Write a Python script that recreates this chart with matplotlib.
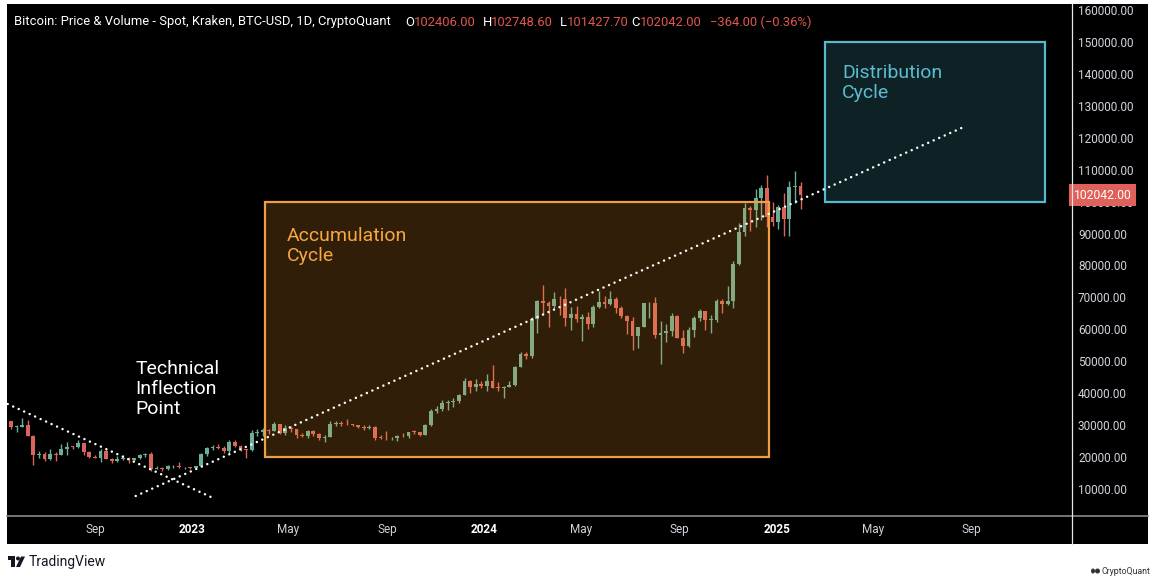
import matplotlib
matplotlib.use('Agg')
import matplotlib.pyplot as plt
import matplotlib.dates as mdates
import matplotlib.transforms as mtransforms
import numpy as np
import pandas as pd
from matplotlib.patches import Rectangle, Ellipse, Polygon

# ---------------- data (weekly candles, Kraken BTC-USD) ----------------
first_week = '2022-05-16'
first_open = 31300
closes = [29450, 29450, 29900, 26600, 20550, 21050, 19300, 20850, 20800, 22600,
          23300, 23200, 24300, 21500, 20000, 19800, 21800, 19400, 18800, 19400,
          19400, 19200, 19600, 20600, 21100, 16300, 16700, 16400, 17100, 17100,
          16800, 16850, 16550,
          # 2023
          17100, 20900, 22700, 23100, 22900, 21800, 24600, 23550, 22400, 22100,
          27600, 27900, 28450, 28300, 30300, 27600, 29200, 28700, 26900, 26750,
          28050, 27250, 25900, 26350, 30500, 30600, 30300, 30250, 30100, 29300,
          29050, 29300, 26100, 26000, 25850, 25850, 26550, 26500, 27950, 27900,
          26850, 29900, 34500, 35000, 37050, 37350, 37450, 39450, 43750, 41900,
          43000, 42300,
          # 2024
          43900, 41750, 41600, 42000, 42550, 48300, 52150, 51550, 63100, 68900,
          68400, 67200, 69650, 69400, 63400, 64900, 63100, 63800, 61600, 66900,
          68550, 67800, 69500, 66600, 64300, 62700, 58000, 60800, 68200, 68300,
          58200, 58700, 59400, 64200, 57300, 54800, 59900, 63600, 65600, 62900,
          62900, 69000, 68000, 68800, 80400, 90500, 98000, 97500, 101200, 104300,
          95200, 93700, 98400,
          # 2025
          94500, 104500, 105000, 102042]
highs = [31400, 30200, 32200, 31600, 26800, 21900, 21500, 22400, 21600, 24200,
         24600, 23600, 25200, 24400, 21800, 20600, 22400, 22800, 19700, 20400,
         20500, 19900, 19700, 21000, 21400, 21500, 17200, 16800, 17400, 17400,
         18400, 17000, 16950,
         17200, 21300, 23300, 23900, 24200, 23400, 25200, 25200, 23900, 22600,
         28400, 28900, 29200, 28800, 30900, 30500, 30000, 29800, 28900, 27600,
         28400, 28400, 27400, 26800, 31400, 31300, 31400, 31800, 30400, 30100,
         30000, 30200, 29700, 26800, 28100, 26400, 26800, 27400, 28000, 28600,
         27900, 30300, 35200, 35900, 37900, 37900, 38400, 39800, 44700, 44000,
         44400, 43800,
         45900, 48900, 43500, 42200, 43900, 48500, 52800, 52900, 64000, 69200,
         73800, 68900, 71600, 70300, 72800, 66900, 67200, 64700, 65500, 67700,
         72000, 70600, 71900, 70200, 67200, 64500, 63800, 59700, 68300, 68500,
         70000, 62700, 61800, 65000, 64500, 59800, 60600, 64100, 66500, 65600,
         64500, 69400, 69500, 73600, 81500, 93400, 99500, 98700, 103900, 105200,
         108300, 99900, 98900,
         102700, 106400, 109500, 106300]
lows = [28700, 28000, 29300, 26600, 17600, 19600, 18700, 19000, 18900, 20700,
        20700, 22400, 22800, 20800, 19800, 19600, 18500, 19300, 18200, 18500,
        19200, 18200, 18900, 19300, 20000, 15600, 16200, 15500, 16000, 16700,
        16500, 16300, 16400,
        16500, 17100, 20400, 22300, 22500, 21400, 21400, 23100, 21900, 19600,
        21900, 26600, 26600, 27200, 28200, 27100, 27000, 27700, 26100, 26300,
        25900, 26600, 25400, 24800, 26250, 29600, 29800, 29950, 29600, 29100,
        28600, 28700, 25200, 25800, 25400, 25300, 24900, 26200, 26000, 27200,
        26600, 26800, 29700, 33900, 34500, 34800, 35700, 36800, 39400, 40200,
        40600, 41600,
        40800, 41500, 40600, 38500, 41800, 42300, 48200, 50600, 50900, 59000,
        64600, 60800, 66600, 64500, 61000, 59700, 62400, 56500, 60200, 60800,
        66600, 66600, 67500, 65100, 63500, 58500, 53600, 54300, 60700, 63500,
        57200, 49100, 56100, 57800, 57200, 52600, 54600, 57600, 62700, 59800,
        58900, 62400, 65000, 67500, 66800, 80200, 89300, 90800, 92000, 94200,
        92200, 92500, 91400,
        89300, 89300, 99500, 97800]

last_open, last_high, last_low, last_close = 102406.00, 102748.60, 101427.70, 102042.00
last_change, last_change_pct = -364.00, -0.36

price_ticks = [10000, 20000, 30000, 40000, 50000, 60000, 70000, 80000,
               90000, 100000, 110000, 120000, 130000, 140000, 150000, 160000]
time_ticks = ['2022-09-01', '2023-01-01', '2023-05-01', '2023-09-01', '2024-01-01',
              '2024-05-01', '2024-09-01', '2025-01-01', '2025-05-01', '2025-09-01']
time_labels = ['Sep', '2023', 'May', 'Sep', '2024', 'May', 'Sep', '2025', 'May', 'Sep']

# drawings
accum_box = ('2023-04-01', '2024-12-22', 20000, 100000)
distr_box = ('2025-03-01', '2025-12-02', 100000, 150000)
trend_up = (('2022-10-22', 7810), ('2025-08-22', 123370))
trend_down = (('2022-05-15', 36620), ('2023-01-24', 7500))

# ---------------- figure ----------------
W, H = 1166, 580
fig = plt.figure(figsize=(W / 100, H / 100), dpi=100, facecolor='white')
UI = 'Roboto'


def fx(px):
    return px / W


def fy(py):
    return 1 - py / H


fig.patches.append(Rectangle((fx(7), fy(544)), fx(1148) - fx(7), fy(4) - fy(544),
                             transform=fig.transFigure, facecolor='black',
                             edgecolor='none', zorder=-5))

ax = fig.add_axes([fx(7), fy(515), fx(1071) - fx(7), fy(4) - fy(515)])
ax.set_zorder(1)
ax.set_facecolor('black')
for s in ax.spines.values():
    s.set_visible(False)

base = mdates.date2num(pd.Timestamp('2023-01-01'))
ax.set_xlim(base - 231.9, base + 1098.1)
ax.set_ylim(1857, 161894)

# candles
dates = pd.date_range(first_week, periods=len(closes), freq='W-MON')
xs = mdates.date2num(dates) + 3
opens = [first_open] + closes[:-1]
up_c, dn_c = '#6aae98', '#d8665a'
cols = [up_c if c >= o else dn_c for o, c in zip(opens, closes)]
ax.vlines(xs, lows, highs, colors=cols, linewidth=1.0, zorder=3)
bottoms = [min(o, c) for o, c in zip(opens, closes)]
heights = [max(abs(c - o), 200) for o, c in zip(opens, closes)]
ax.bar(xs, heights, bottom=bottoms, width=4.6, color=cols, linewidth=0, zorder=3)


def dn(s):
    return mdates.date2num(pd.Timestamp(s))


# boxes (drawn over the series like TradingView drawings)
x0, x1, y0, y1 = accum_box
ax.add_patch(Rectangle((dn(x0), y0), dn(x1) - dn(x0), y1 - y0, facecolor='#f29a2e',
                       alpha=0.2, edgecolor='none', zorder=4))
ax.add_patch(Rectangle((dn(x0), y0), dn(x1) - dn(x0), y1 - y0, facecolor='none',
                       edgecolor='#f0a040', linewidth=1.6, zorder=5))
x0, x1, y0, y1 = distr_box
ax.add_patch(Rectangle((dn(x0), y0), dn(x1) - dn(x0), y1 - y0, facecolor='#4fb8cf',
                       alpha=0.18, edgecolor='none', zorder=4))
ax.add_patch(Rectangle((dn(x0), y0), dn(x1) - dn(x0), y1 - y0, facecolor='none',
                       edgecolor='#5ab8cc', linewidth=1.6, zorder=5))

# dotted trend lines
for (a, pa), (b, pb) in (trend_up, trend_down):
    ax.plot([dn(a), dn(b)], [pa, pb], color='white', linewidth=1.8,
            linestyle=(0, (0.01, 2.4)), dash_capstyle='round', zorder=6)

# annotation texts
ax.text(dn('2022-10-22'), 41320, 'Technical\nInflection\nPoint', color='white',
        fontsize=14, family=UI, va='center', ha='left', linespacing=1.12, zorder=7)
ax.text(dn('2023-04-29'), 86100, 'Accumulation\nCycle', color='#f5a742',
        fontsize=14, family=UI, va='center', ha='left', linespacing=1.12, zorder=7)
ax.text(dn('2025-03-23'), 137150, 'Distribution\nCycle', color='#5bbcd0',
        fontsize=14, family=UI, va='center', ha='left', linespacing=1.12, zorder=7)

# price axis on the right
ax.yaxis.tick_right()
ax.set_yticks(price_ticks)
ax.set_yticklabels([f'{v:.2f}' for v in price_ticks])
ax.tick_params(axis='y', length=0, pad=5, labelcolor='#d1d4dc', labelsize=8.5)
for lab in ax.get_yticklabels():
    lab.set_family(UI)

# time axis
ax.set_xticks([dn(t) for t in time_ticks])
ax.set_xticklabels(time_labels)
ax.tick_params(axis='x', length=0, pad=10.5, labelcolor='#d1d4dc', labelsize=8.5)
for lab in ax.get_xticklabels():
    lab.set_family(UI)
    lab.set_va('center')
    if lab.get_text().isdigit():
        lab.set_fontweight('bold')
        lab.set_color('white')

# last price label
trans = mtransforms.blended_transform_factory(ax.transAxes, ax.transData)
ax.text(1.0 + 2.5 / 1064, last_close, f'{last_close:.2f}', transform=trans,
        color='white', fontsize=8.7, family=UI, va='center', ha='left', clip_on=False,
        zorder=10, bbox=dict(boxstyle='square,pad=0.38', fc='#e0605a', ec='none'))

# separators
fig.add_artist(plt.Line2D([fx(7), fx(1148)], [fy(515.5), fy(515.5)], color='#8a8a8a',
                          linewidth=1.2, transform=fig.transFigure, zorder=5))
fig.add_artist(plt.Line2D([fx(1071.5), fx(1071.5)], [fy(4), fy(544)], color='#e6e6e6',
                          linewidth=0.9, transform=fig.transFigure, zorder=5))

# legend / title row
red = '#e0574f'
title_parts = [
    (14, 'Bitcoin: Price & Volume - Spot, Kraken, BTC-USD, 1D, CryptoQuant', 'white'),
    (405, 'O', 'white'), (414, f'{last_open:.2f}', red),
    (483, 'H', 'white'), (491, f'{last_high:.2f}', red),
    (560, 'L', 'white'), (567, f'{last_low:.2f}', red),
    (631, 'C', 'white'), (640, f'{last_close:.2f}', red),
    (710, f'\u2212{abs(last_change):.2f} (\u2212{abs(last_change_pct):.2f}%)', red),
]
for px, s, c in title_parts:
    fig.text(fx(px), fy(22), s, color=c, fontsize=9.4, family=UI, va='center', ha='left',
             zorder=6)

# TradingView logo
lx, ly = 8, 562
ink = '#131722'
fig.patches.append(Rectangle((fx(lx), fy(ly - 2)), 7 / W, 4 / H, transform=fig.transFigure,
                             facecolor=ink, edgecolor='none'))
fig.patches.append(Rectangle((fx(lx + 3), fy(ly + 5)), 4 / W, 7 / H, transform=fig.transFigure,
                             facecolor=ink, edgecolor='none'))
fig.patches.append(Ellipse((fx(lx + 10), fy(ly - 3.5)), 4 / W, 4 / H, transform=fig.transFigure,
                           facecolor=ink, edgecolor='none'))
fig.patches.append(Polygon([(fx(lx + 13), fy(ly - 5.5)), (fx(lx + 17), fy(ly - 5.5)),
                            (fx(lx + 12), fy(ly + 5)), (fx(lx + 8), fy(ly + 5))],
                           closed=True, transform=fig.transFigure,
                           facecolor=ink, edgecolor='none'))
fig.text(fx(29), fy(562), 'TradingView', color=ink, fontsize=10, family=UI,
         va='center', ha='left')

# CryptoQuant logo
fig.patches.append(Ellipse((fx(1093), fy(571)), 4 / W, 5 / H, transform=fig.transFigure,
                           facecolor='#333333', edgecolor='none'))
fig.patches.append(Ellipse((fx(1097.5), fy(571)), 5 / W, 5 / H, transform=fig.transFigure,
                           facecolor='#333333', edgecolor='none'))
fig.text(fx(1102), fy(571), 'CryptoQuant', color='#333333', fontsize=6.3, family=UI,
         va='center', ha='left')

fig.savefig('out.png', dpi=100, facecolor='white')
